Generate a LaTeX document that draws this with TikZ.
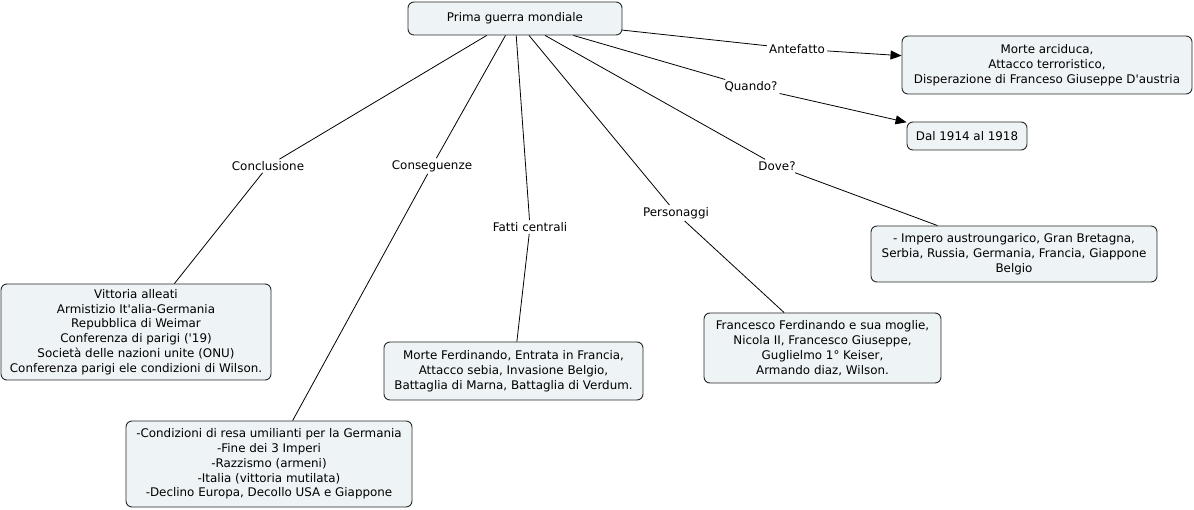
\documentclass[tikz,border=0pt]{standalone}
\usepackage{fontspec}
\setmainfont{DejaVu Sans}
\usetikzlibrary{arrows.meta}
\definecolor{boxfill}{RGB}{238,243,245}
\definecolor{boxline}{RGB}{40,40,40}
\newcommand{\sq}{\textquotesingle}
\begin{document}
\begin{tikzpicture}[x=1pt,y=-1pt,
  concept/.style={draw=boxline,fill=boxfill,rounded corners=6pt,line width=0.9pt,align=center,
    font=\fontsize{11.9}{14.8}\selectfont,inner sep=0pt},
  lab/.style={fill=white,inner sep=2pt,font=\fontsize{11.9}{14}\selectfont},
  link/.style={line width=0.8pt,black},
  arr/.style={link,-{Triangle[length=11pt,width=9pt]}}]
\useasboundingbox[fill=white] (0,0) rectangle (1194,510);
% concepts
\node[concept,minimum width=214pt,minimum height=33pt] (main) at (515,18.5) {Prima guerra mondiale};
\node[concept,minimum width=290pt,minimum height=58pt] (ante) at (1047,65) {Morte arciduca,\\ Attacco terroristico,\\ Disperazione di Franceso Giuseppe D\sq austria};
\node[concept,minimum width=120pt,minimum height=28pt] (dal) at (967,136) {Dal 1914 al 1918};
\node[concept,minimum width=286pt,minimum height=56pt] (dove) at (1014,254) {- Impero austroungarico, Gran Bretagna,\\ Serbia, Russia, Germania, Francia, Giappone\\ Belgio};
\node[concept,minimum width=237pt,minimum height=70pt] (pers) at (822.5,348) {Francesco Ferdinando e sua moglie,\\ Nicola II, Francesco Giuseppe,\\ Guglielmo 1° Keiser,\\ Armando diaz, Wilson.};
\node[concept,minimum width=259pt,minimum height=58pt] (fatti) at (513.5,371) {Morte Ferdinando, Entrata in Francia,\\ Attacco sebia, Invasione Belgio,\\ Battaglia di Marna, Battaglia di Verdum.};
\node[concept,minimum width=270pt,minimum height=96pt] (concl) at (136,332) {Vittoria alleati\\ Armistizio It\sq alia-Germania\\ Repubblica di Weimar\\ Conferenza di parigi (\sq 19)\\ Società delle nazioni unite (ONU)\\ Conferenza parigi ele condizioni di Wilson.};
\node[concept,minimum width=286pt,minimum height=86pt] (cons) at (269,464) {-Condizioni di resa umilianti per la Germania\\ -Fine dei 3 Imperi\\ -Razzismo (armeni)\\ -Italia (vittoria mutilata)\\ -Declino Europa, Decollo USA e Giappone};
% labels
\node[lab] (lante) at (797,49) {Antefatto};
\node[lab] (lquando) at (751,87) {Quando?};
\node[lab] (lconcl) at (268,166) {Conclusione};
\node[lab] (lcons) at (432,166) {Conseguenze};
\node[lab] (lfatti) at (530,227) {Fatti centrali};
\node[lab] (lpers) at (676,213) {Personaggi};
\node[lab] (ldove) at (777,166) {Dove?};
% links
\draw[link] (main) -- (lante);
\draw[arr] (lante) -- (ante);
\draw[link] (main) -- (lquando);
\draw[arr] (lquando) -- (dal);
\draw[link] (main) -- (lconcl);
\draw[link] (lconcl) -- (concl);
\draw[link] (main) -- (lcons);
\draw[link] (lcons) -- (cons);
\draw[link] (main) -- (lfatti);
\draw[link] (lfatti) -- (fatti);
\draw[link] (main) -- (lpers);
\draw[link] (lpers) -- (pers);
\draw[link] (main) -- (ldove);
\draw[link] (ldove) -- (dove);
\end{tikzpicture}
\end{document}
